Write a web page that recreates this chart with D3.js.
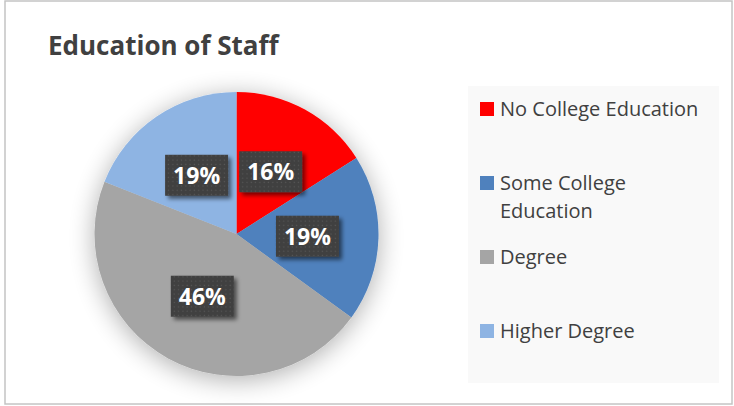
<!DOCTYPE html>
<html>
<head>
<meta charset="utf-8">
<script src="https://cdn.jsdelivr.net/npm/d3@7"></script>
<style>
  body { margin: 0; background: #fff; }
  svg { display: block; font-family: "Open Sans", Lato, sans-serif; }
</style>
</head>
<body>
<div id="chart"></div>
<script>
var categories = ["No College Education", "Some College Education", "Degree", "Higher Degree"];
var values = [16, 19, 46, 19];
var colors = ["#ff0000", "#4f81bd", "#a5a5a5", "#8eb4e3"];

var width = 734, height = 406;
var cx = 236.5, cy = 234, radius = 142;

var svg = d3.select("#chart").append("svg")
  .attr("width", width)
  .attr("height", height);

var defs = svg.append("defs");

// soft shadow round the pie
var pieShadow = defs.append("filter").attr("id", "pieShadow")
  .attr("x", "-40%").attr("y", "-40%").attr("width", "180%").attr("height", "180%");
pieShadow.append("feGaussianBlur").attr("in", "SourceAlpha").attr("stdDeviation", 13).attr("result", "b");
pieShadow.append("feOffset").attr("in", "b").attr("dy", 4).attr("result", "o");
pieShadow.append("feComponentTransfer").attr("in", "o").attr("result", "s")
  .append("feFuncA").attr("type", "linear").attr("slope", 0.32);
var m1 = pieShadow.append("feMerge");
m1.append("feMergeNode").attr("in", "s");
m1.append("feMergeNode").attr("in", "SourceGraphic");

// shadow under the label boxes
var boxShadow = defs.append("filter").attr("id", "boxShadow")
  .attr("x", "-30%").attr("y", "-30%").attr("width", "170%").attr("height", "170%");
boxShadow.append("feGaussianBlur").attr("in", "SourceAlpha").attr("stdDeviation", 2).attr("result", "b");
boxShadow.append("feOffset").attr("in", "b").attr("dx", 3).attr("dy", 3).attr("result", "o");
boxShadow.append("feComponentTransfer").attr("in", "o").attr("result", "s")
  .append("feFuncA").attr("type", "linear").attr("slope", 0.55);
var m2 = boxShadow.append("feMerge");
m2.append("feMergeNode").attr("in", "s");
m2.append("feMergeNode").attr("in", "SourceGraphic");

// dotted fill for the labels
var pat = defs.append("pattern").attr("id", "dots")
  .attr("width", 4.3).attr("height", 4.3).attr("patternUnits", "userSpaceOnUse");
pat.append("rect").attr("width", 4.3).attr("height", 4.3).attr("fill", "#404040");
pat.append("rect").attr("x", 1.5).attr("y", 1.5).attr("width", 1.2).attr("height", 1.2).attr("fill", "#575757");

// chart border
svg.append("rect")
  .attr("x", 5).attr("y", 1)
  .attr("width", 727).attr("height", 403)
  .attr("fill", "#fff")
  .attr("stroke", "#c4c4c4")
  .attr("stroke-width", 1.5);

svg.append("text")
  .attr("x", 48).attr("y", 55)
  .attr("font-size", 26)
  .attr("font-weight", "bold")
  .attr("fill", "#404040")
  .text("Education of Staff");

var pie = d3.pie().sort(null).value(function(d) { return d; });
var arc = d3.arc().innerRadius(0).outerRadius(radius);
var arcs = pie(values);
var total = d3.sum(values);

var g = svg.append("g").attr("transform", "translate(" + cx + "," + cy + ")");

g.append("g").attr("filter", "url(#pieShadow)")
  .selectAll("path")
  .data(arcs)
  .enter().append("path")
    .attr("d", arc)
    .attr("fill", function(d, i) { return colors[i]; });

var lbl = g.selectAll(".lbl")
  .data(arcs)
  .enter().append("g")
    .attr("class", "lbl")
    .attr("transform", function(d) { return "translate(" + arc.centroid(d) + ")"; });

lbl.append("rect")
  .attr("x", -31.5).attr("y", -20.5)
  .attr("width", 63).attr("height", 41)
  .attr("fill", "url(#dots)")
  .attr("filter", "url(#boxShadow)");

lbl.append("text")
  .attr("text-anchor", "middle")
  .attr("y", 8.5)
  .attr("font-size", 23)
  .attr("font-weight", "bold")
  .attr("fill", "#fff")
  .text(function(d) { return Math.round(d.value / total * 100) + "%"; });

// legend
svg.append("rect")
  .attr("x", 468).attr("y", 86)
  .attr("width", 251).attr("height", 297)
  .attr("fill", "#f9f9f9");

var legY = d3.scalePoint().domain(categories).range([109, 331]);

var leg = svg.selectAll(".leg")
  .data(categories)
  .enter().append("g")
    .attr("class", "leg")
    .attr("transform", function(d) { return "translate(480," + legY(d) + ")"; });

leg.append("rect")
  .attr("x", 0).attr("y", -7)
  .attr("width", 14).attr("height", 14)
  .attr("fill", function(d, i) { return colors[i]; });

leg.append("text")
  .attr("x", 20).attr("y", 7)
  .attr("font-size", 20)
  .attr("fill", "#404040")
  .each(function(d) {
    var t = d3.select(this), words = d.split(" "), line = [];
    var ts = t.append("tspan").attr("x", 20).attr("dy", 0);
    words.forEach(function(w) {
      line.push(w);
      ts.text(line.join(" "));
      if (ts.node().getComputedTextLength() > 212 && line.length > 1) {
        line.pop();
        ts.text(line.join(" "));
        line = [w];
        ts = t.append("tspan").attr("x", 20).attr("dy", 28).text(w);
      }
    });
  });
</script>
</body>
</html>
